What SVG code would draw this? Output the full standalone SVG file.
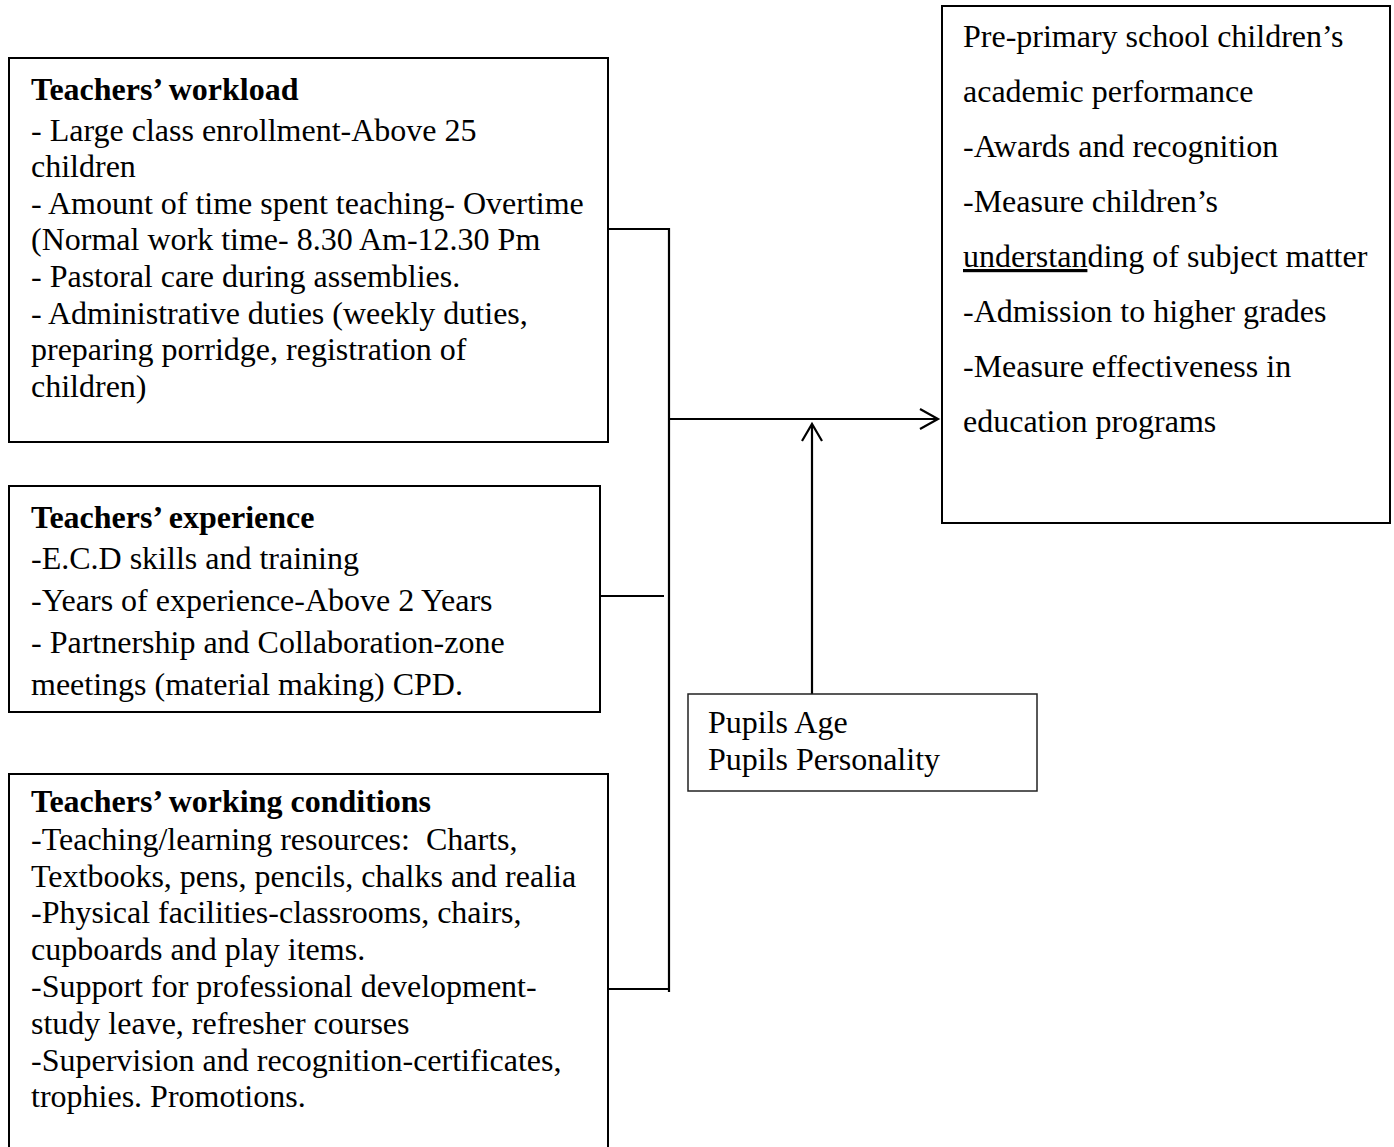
<svg xmlns="http://www.w3.org/2000/svg" width="1394" height="1147" viewBox="0 0 1394 1147">
<style>
.box{fill:#fff;stroke:#000;stroke-width:2}
.thin{fill:#fff;stroke:#222;stroke-width:1.5}
text{font-family:"Liberation Serif","Times New Roman",serif;font-size:32px;fill:#000}
.b{font-weight:bold}
.ln{fill:none;stroke:#000;stroke-width:2.2}
</style>
<rect width="1394" height="1147" fill="#fff"/>
<g id="connectors">
<polyline class="ln" points="608,229 669,229 669,992"/>
<line class="ln" x1="601" y1="596" x2="664" y2="596"/>
<line class="ln" x1="608" y1="989" x2="669" y2="989"/>
<line class="ln" x1="669" y1="419" x2="937" y2="419"/>
<polyline class="ln" points="920,409 938,419 920,429"/>
<line class="ln" x1="812" y1="694" x2="812" y2="425"/>
<polyline class="ln" points="802,441 812,424 822,441"/>
</g>
<g id="workload">
<rect class="box" x="9" y="58" width="599" height="384"/>
<text x="31" y="100" class="b">Teachers’ workload</text>
<text x="31" y="141">- Large class enrollment-Above 25</text>
<text x="31" y="177">children</text>
<text x="31" y="214">- Amount of time spent teaching- Overtime</text>
<text x="31" y="250">(Normal work time- 8.30 Am-12.30 Pm</text>
<text x="31" y="287">- Pastoral care during assemblies.</text>
<text x="31" y="324">- Administrative duties (weekly duties,</text>
<text x="31" y="360">preparing porridge, registration of</text>
<text x="31" y="397">children)</text>
</g>
<g id="experience">
<rect class="box" x="9" y="486" width="591" height="226"/>
<text x="31" y="528" class="b">Teachers’ experience</text>
<text x="31" y="569">-E.C.D skills and training</text>
<text x="31" y="611">-Years of experience-Above 2 Years</text>
<text x="31" y="653">- Partnership and Collaboration-zone</text>
<text x="31" y="695">meetings (material making) CPD.</text>
</g>
<g id="conditions">
<rect class="box" x="9" y="774" width="599" height="390"/>
<text x="31" y="812" class="b">Teachers’ working conditions</text>
<text x="31" y="850" xml:space="preserve">-Teaching/learning resources:  Charts,</text>
<text x="31" y="887">Textbooks, pens, pencils, chalks and realia</text>
<text x="31" y="923">-Physical facilities-classrooms, chairs,</text>
<text x="31" y="960">cupboards and play items.</text>
<text x="31" y="997">-Support for professional development-</text>
<text x="31" y="1034">study leave, refresher courses</text>
<text x="31" y="1071">-Supervision and recognition-certificates,</text>
<text x="31" y="1107">trophies. Promotions.</text>
</g>
<g id="performance">
<rect class="box" x="942" y="6" width="448" height="517"/>
<text x="963" y="47">Pre-primary school children’s</text>
<text x="963" y="102">academic performance</text>
<text x="963" y="157">-Awards and recognition</text>
<text x="963" y="212">-Measure children’s</text>
<text x="963" y="267"><tspan text-decoration="underline">understan</tspan>ding of subject matter</text>
<text x="963" y="322">-Admission to higher grades</text>
<text x="963" y="377">-Measure effectiveness in</text>
<text x="963" y="432">education programs</text>
</g>
<g id="pupils">
<rect class="thin" x="688" y="694" width="349" height="97"/>
<text x="708" y="733">Pupils Age</text>
<text x="708" y="770">Pupils Personality</text>
</g>
</svg>
